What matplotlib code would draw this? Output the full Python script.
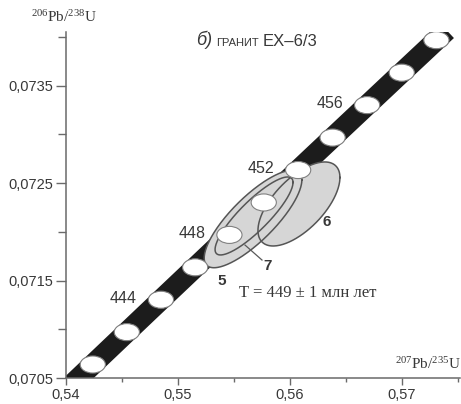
import numpy as np
import matplotlib
matplotlib.use("Agg")
from matplotlib import pyplot as plt
from matplotlib.patches import Ellipse

# decay constants (1/yr)
L238 = 1.55125e-10
L235 = 9.8485e-10

# age marks on the concordia, Ma
marker_ages = [440, 442, 444, 446, 448, 450, 452, 454, 456, 458, 460]
labelled_ages = [444, 448, 452, 456]
band_ages = [438.5, 460.6]

# zircon analyses: 207Pb/235U, 206Pb/238U, half-widths, rho
spot_names = ["5", "7", "6"]
spot_x = [0.55670, 0.55679, 0.56080]
spot_y = [0.072131, 0.072162, 0.072285]
spot_sx = [0.00436, 0.00348, 0.00366]
spot_sy = [0.000500, 0.000400, 0.000431]
spot_rho = [0.80, 0.86, 0.63]

x_ticks = [0.54, 0.55, 0.56, 0.57]
y_ticks = [0.0705, 0.0715, 0.0725, 0.0735]

sans = "Liberation Sans"
serif = "Liberation Serif"
plt.rcParams["mathtext.fontset"] = "custom"
plt.rcParams["mathtext.rm"] = serif
plt.rcParams["mathtext.it"] = serif + ":italic"

ink = "#383838"


def concordia(t):
    t = np.asarray(t) * 1e6
    return np.exp(L235 * t) - 1, np.exp(L238 * t) - 1


fig = plt.figure(figsize=(4.61, 4.04), dpi=100)
ax = fig.add_axes([66 / 461, 26 / 404, 394 / 461, 346 / 404])
ax.set_xlim(0.54, 0.57518)
ax.set_ylim(0.0705, 0.074049)

# concordia band
tt = np.linspace(band_ages[0], band_ages[1], 200)
cx, cy = concordia(tt)
ax.plot(cx, cy, color="#1c1c1c", lw=15, solid_capstyle="butt", zorder=1)

# error ellipses of the analyses
t = np.linspace(0, 2 * np.pi, 300)
outlines = []
for x0, y0, sx, sy, r in zip(spot_x, spot_y, spot_sx, spot_sy, spot_rho):
    ex = x0 + sx * np.cos(t)
    ey = y0 + sy * (r * np.cos(t) + np.sqrt(1 - r ** 2) * np.sin(t))
    outlines.append((ex, ey))
    ax.fill(ex, ey, color="#d6d6d6", lw=0, zorder=2)
for ex, ey in outlines:
    ax.plot(ex, ey, color="#555555", lw=1.1, zorder=3)

# age marks
mx, my = concordia(marker_ages)
for x0, y0 in zip(mx, my):
    ax.add_patch(Ellipse((x0, y0), 0.00225, 0.000175, fc="white",
                         ec="#808080", lw=0.8, zorder=4))

for age in labelled_ages:
    x0, y0 = concordia(age)
    ax.annotate(str(age), (x0, y0), xytext=(-27, 1), textcoords="offset points",
                ha="center", va="center", fontsize=11.5, family=sans, color=ink)

# spot numbers
ax.text(0.55393, 0.071495, "5", fontsize=11, fontweight="bold", family=sans,
        color=ink, ha="center", va="center")
ax.text(0.56330, 0.07210, "6", fontsize=11, fontweight="bold", family=sans,
        color=ink, ha="center", va="center")
ax.text(0.55804, 0.071649, "7", fontsize=11, fontweight="bold", family=sans,
        color=ink, ha="center", va="center")
ax.plot([0.55598, 0.5575], [0.071864, 0.07171], color="#5a5a5a", lw=0.9, zorder=5)

ax.text(0.5616, 0.071372, "T = 449 ± 1 млн лет", fontsize=12, family=serif,
        color=ink, ha="center", va="center")

# axes styling
for side in ("top", "right"):
    ax.spines[side].set_visible(False)
for side in ("left", "bottom"):
    ax.spines[side].set_color("#6a6a6a")
    ax.spines[side].set_linewidth(1.1)

ax.set_xticks(x_ticks)
ax.set_yticks(y_ticks)
ax.set_xticks([0.545, 0.555, 0.565, 0.575], minor=True)
ax.set_yticks([0.0710, 0.0720, 0.0730, 0.0740], minor=True)
ax.set_xticklabels([f"{v:.2f}".replace(".", ",") for v in x_ticks])
ax.set_yticklabels([f"{v:.4f}".replace(".", ",") for v in y_ticks])
ax.tick_params(axis="x", which="major", length=5, width=1, color="#6a6a6a", pad=2)
ax.tick_params(axis="x", which="minor", length=3, width=1, color="#6a6a6a")
ax.tick_params(axis="y", which="major", length=7, width=1, color="#6a6a6a", pad=2)
ax.tick_params(axis="y", which="minor", length=6, width=1, color="#6a6a6a")
for lab in ax.get_xticklabels() + ax.get_yticklabels():
    lab.set_family(sans)
    lab.set_fontsize(10.5)
    lab.set_color(ink)

# axis titles
fig.text(64 / 461, 1 - 17 / 404, r"$^{206}$Pb/$^{238}$U", fontsize=11, family=serif,
         color=ink, ha="center", va="center")
fig.text(428 / 461, 1 - 364 / 404, r"$^{207}$Pb/$^{235}$U", fontsize=11, family=serif,
         color=ink, ha="center", va="center")

# panel title, pieces chained left to right
t1 = fig.text(196 / 461, 1 - 45 / 404, "б)", fontsize=13, style="italic", family=sans,
              color=ink, ha="left", va="baseline")
t2 = ax.annotate("ГРАНИТ", xy=(1, 0), xycoords=t1, xytext=(3, 0.5),
                 textcoords="offset points", fontsize=8, family=sans,
                 color=ink, ha="left", va="bottom")
ax.annotate("ЕХ–6/3", xy=(1, 0), xycoords=t2, xytext=(3, -0.5),
            textcoords="offset points", fontsize=12, family=sans,
            color=ink, ha="left", va="bottom")

fig.savefig("out.png", dpi=100)
